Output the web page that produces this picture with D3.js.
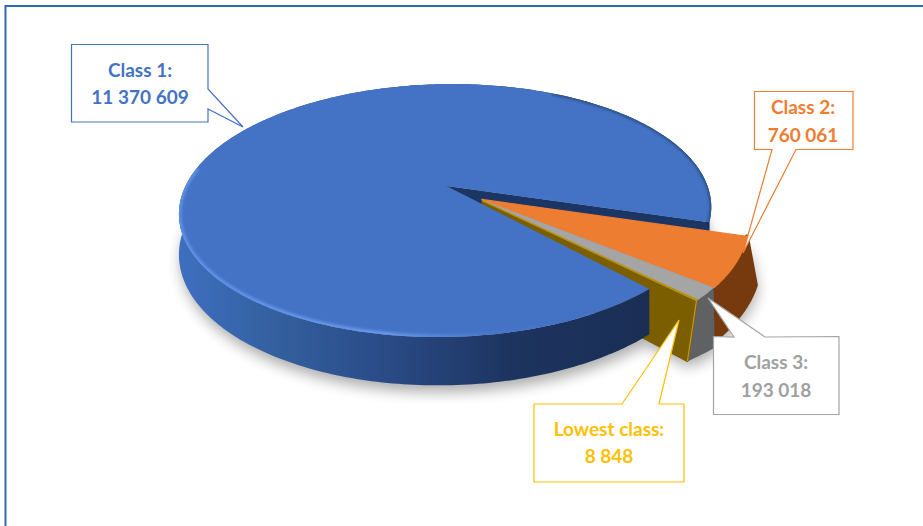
<!DOCTYPE html>
<html>
<head>
<meta charset="utf-8">
<script src="https://cdn.jsdelivr.net/npm/d3@7"></script>
<style>
  html, body { margin: 0; padding: 0; background: #fff; overflow: hidden; }
  svg { display: block; }
  text { font-family: Lato, "Open Sans", sans-serif; font-weight: 700; font-size: 19px; text-anchor: middle; }
</style>
</head>
<body>
<script>
// values as read from the callouts
var categories = ['Class 1', 'Class 2', 'Class 3', 'Lowest class'];
var values = [11370609, 760061, 193018, 8848];
var valueLabels = ['11 370 609', '760 061', '193 018', '8 848'];
var firstLines = ['Class 1:', 'Class 2:', 'Class 3:', 'Lowest class:'];

var topColors = ['#4472c4', '#ed7d31', '#a5a5a5', '#b8900a'];
var wallColors = ['#1b2f57', '#773a0e', '#5f6163', '#7a5e00'];
var textColors = ['#4472c4', '#ed7d31', '#a0a0a0', '#ffc000'];

// box [x, y, w, h], tail [base1, tip, base2]
var boxes = [[71.5, 44.5, 136.5, 77.5], [754.5, 91.5, 98.5, 58], [713.5, 336.5, 125.5, 78], [534, 404, 150, 78]];
var tails = [
  [[208, 89], [243, 127], [208, 109]],
  [[772, 149.5], [743, 253], [796, 149.5]],
  [[765, 337], [708, 298], [734, 337]],
  [[622, 404], [679, 320], [659, 404]]
];
var textX = [140, 803, 776, 609];
var textY = [[77, 104], [114, 142], [369, 397], [436, 463]];

// slices pulled out of the pie: u, v, radius, in disc units
var pulls = [[0, 0, 1], [0.135, 0.108, 0.98], [0.138, 0.116, 0.97], [0.138, 0.118, 0.97]];
// wall height of each slice and how far its foot leans sideways at start and end of its arc
var depths = [39, 45, 51, 51];
var leans = [[0, 0], [9, 1], [1, -9], [-9, -9]];

var width = 923, height = 526;
var cx = 446.5, cy = 186;
var rx = 261, ry = 121.7, persp = 0.194, skew = 7;
var blueTrim = 2.2 * Math.PI / 180;

var svg = d3.select('body').append('svg')
  .attr('width', width)
  .attr('height', height);

var defs = svg.append('defs');

var addBlur = function(id, sd) {
  defs.append('filter').attr('id', id)
    .attr('x', '-20%').attr('y', '-20%').attr('width', '140%').attr('height', '140%')
    .append('feGaussianBlur').attr('stdDeviation', sd);
};
addBlur('soft', 7);
addBlur('rimBlur', 1.5);

var wallGrad = defs.append('linearGradient').attr('id', 'wallGrad')
  .attr('gradientUnits', 'userSpaceOnUse')
  .attr('x1', 180).attr('x2', 650).attr('y1', 0).attr('y2', 0);
[[0, '#3e6fc0'], [0.2, '#34609f'], [0.45, '#294a85'], [0.7, '#1d3460'], [1, '#1a2e55']].forEach(function(s) {
  wallGrad.append('stop').attr('offset', s[0]).attr('stop-color', s[1]);
});

var rimGrad = defs.append('linearGradient').attr('id', 'rimGrad')
  .attr('gradientUnits', 'userSpaceOnUse')
  .attr('x1', 180).attr('x2', 600).attr('y1', 0).attr('y2', 0);
[[0, '#5f93ea', 1], [0.5, '#6a9cf0', 1], [0.75, '#4d7ed0', 0.5], [1, '#4472c4', 0]].forEach(function(s) {
  rimGrad.append('stop').attr('offset', s[0]).attr('stop-color', s[1]).attr('stop-opacity', s[2]);
});

var pie = d3.pie().sort(null)
  .startAngle(134.4 * Math.PI / 180)
  .endAngle((134.4 + 360) * Math.PI / 180);
var arcs = pie(values);

var uScale = d3.scaleLinear().domain([-1, 1]).range([-rx, rx]);
var vScale = d3.scaleLinear().domain([-1, 1]).range([-ry, ry]);

// disc point -> screen, z 0 is the top face and 1 the bottom of slice i
var project = function(i, u, v, z, lean) {
  var s = 1 / (1 - persp * v);
  var x = (uScale(u) - skew * v) * s;
  var y = vScale(v) * s;
  return [cx + x + (lean || 0) * z, cy + y + depths[i] * s * z];
};

var leanAt = function(i, a) {
  var t = (a - arcs[i].startAngle) / (arcs[i].endAngle - arcs[i].startAngle);
  return leans[i][0] + (leans[i][1] - leans[i][0]) * t;
};
var rimPoint = function(i, a, z) {
  var p = pulls[i];
  return project(i, p[0] + p[2] * Math.sin(a), p[1] - p[2] * Math.cos(a), z, leanAt(i, a));
};
var apex = function(i, z) {
  return project(i, pulls[i][0], pulls[i][1], z, 0);
};
var rimPoints = function(i, a0, a1, z) {
  var n = Math.max(2, Math.ceil(Math.abs(a1 - a0) * 60));
  return d3.range(n + 1).map(function(k) {
    return rimPoint(i, a0 + (a1 - a0) * k / n, z);
  });
};

var line = d3.line().curve(d3.curveLinear);
var closedPath = function(pts) { return line(pts) + 'Z'; };

var topPath = function(i, trim) {
  return closedPath([apex(i, 0)].concat(rimPoints(i, arcs[i].startAngle + (trim || 0), arcs[i].endAngle, 0)));
};
var wallPath = function(i, a0, a1) {
  return closedPath(rimPoints(i, a0, a1, 0).concat(rimPoints(i, a1, a0, 1)));
};
var facePath = function(i, a) {
  return closedPath([apex(i, 0), rimPoint(i, a, 0), rimPoint(i, a, 1), apex(i, 1)]);
};

// frame, it runs off the right and bottom of the picture
svg.append('rect')
  .attr('x', 5.5).attr('y', 6).attr('width', width + 20).attr('height', height + 20)
  .attr('fill', '#fff').attr('stroke', '#2f69b2').attr('stroke-width', 2);

var a1 = arcs[0], a2 = arcs[1], a3 = arcs[2], a4 = arcs[3];

// soft shadow under everything
var shadow = svg.append('g').attr('filter', 'url(#soft)').attr('opacity', 0.32)
  .attr('transform', 'translate(2,7)');
shadow.append('path')
  .attr('d', closedPath(rimPoints(0, 0, 2 * Math.PI, 1)))
  .attr('fill', '#000');
shadow.append('path')
  .attr('d', wallPath(1, a2.startAngle, a2.endAngle))
  .attr('fill', '#000');
shadow.append('path')
  .attr('d', wallPath(2, a3.startAngle, a3.endAngle))
  .attr('fill', '#000');
shadow.append('path')
  .attr('d', facePath(3, a4.endAngle))
  .attr('fill', '#000');

// blue cut face, the dark wedge
svg.append('path').attr('d', facePath(0, a1.endAngle)).attr('fill', '#1b3565');

// orange
svg.append('path').attr('d', wallPath(1, a2.startAngle, a2.endAngle)).attr('fill', wallColors[1])
  .attr('stroke', wallColors[1]).attr('stroke-width', 4).attr('stroke-linejoin', 'round');
svg.append('path').attr('d', facePath(1, a2.endAngle)).attr('fill', '#6b3409');

// grey
svg.append('path').attr('d', wallPath(2, a3.startAngle, a3.endAngle)).attr('fill', wallColors[2])
  .attr('stroke', wallColors[2]).attr('stroke-width', 2).attr('stroke-linejoin', 'round');
svg.append('path').attr('d', facePath(2, a3.endAngle)).attr('fill', wallColors[2]);

// lowest class, its cut face is the gold block
svg.append('path').attr('d', facePath(3, a4.endAngle)).attr('fill', wallColors[3])
  .attr('stroke', wallColors[3]).attr('stroke-width', 2).attr('stroke-linejoin', 'round');
svg.append('path')
  .attr('d', line([rimPoint(3, a4.endAngle, 0), rimPoint(3, a4.endAngle, 1)]))
  .attr('fill', 'none').attr('stroke', '#c79a10').attr('stroke-width', 1.2);

// blue wall then blue top
svg.append('path').attr('d', wallPath(0, a1.startAngle + blueTrim, a1.endAngle)).attr('fill', 'url(#wallGrad)');

defs.append('clipPath').attr('id', 'blueClip')
  .append('path').attr('d', topPath(0, blueTrim));

svg.append('path').attr('d', topPath(0, blueTrim)).attr('fill', topColors[0]);
var rimG = svg.append('g').attr('clip-path', 'url(#blueClip)');
rimG.append('path')
  .attr('d', line(rimPoints(0, a1.startAngle + blueTrim, 1.55 * Math.PI, 0)))
  .attr('fill', 'none').attr('stroke', 'url(#rimGrad)').attr('stroke-width', 5)
  .attr('filter', 'url(#rimBlur)');
rimG.append('path')
  .attr('d', line(rimPoints(0, 2.15 * Math.PI, a1.endAngle, 0)))
  .attr('fill', 'none').attr('stroke', '#24406f').attr('stroke-width', 2.5)
  .attr('filter', 'url(#rimBlur)');

// tops of the pulled slices sit over the blue
[1, 2, 3].forEach(function(i) {
  svg.append('path').attr('d', topPath(i))
    .attr('fill', topColors[i])
    .attr('stroke', topColors[i]).attr('stroke-width', 1.2).attr('stroke-linejoin', 'round');
});

// callouts
var callout = svg.selectAll('.callout')
  .data(categories)
  .enter()
  .append('g')
  .attr('class', 'callout');

callout.append('path')
  .attr('fill', '#fff')
  .attr('stroke', function(d, i) { return i === 2 ? '#a5a5a5' : textColors[i]; })
  .attr('stroke-width', 1.2)
  .attr('stroke-linejoin', 'miter')
  .attr('d', function(d, i) {
    var b = boxes[i], t = tails[i];
    var x0 = b[0], y0 = b[1], x1 = b[0] + b[2], y1 = b[1] + b[3];
    var pts;
    if (i === 0) pts = [[x0, y0], [x1, y0], t[0], t[1], t[2], [x1, y1], [x0, y1]];
    if (i === 1) pts = [[x0, y0], [x1, y0], [x1, y1], t[2], t[1], t[0], [x0, y1]];
    if (i === 2) pts = [[x0, y0], t[2], t[1], t[0], [x1, y0], [x1, y1], [x0, y1]];
    if (i === 3) pts = [[x0, y0], t[0], t[1], t[2], [x1, y0], [x1, y1], [x0, y1]];
    return closedPath(pts);
  });

callout.append('text')
  .attr('x', function(d, i) { return textX[i]; })
  .attr('y', function(d, i) { return textY[i][0]; })
  .attr('fill', function(d, i) { return textColors[i]; })
  .text(function(d, i) { return firstLines[i]; });

callout.append('text')
  .attr('x', function(d, i) { return textX[i]; })
  .attr('y', function(d, i) { return textY[i][1]; })
  .attr('fill', function(d, i) { return textColors[i]; })
  .text(function(d, i) { return valueLabels[i]; });
</script>
</body>
</html>
